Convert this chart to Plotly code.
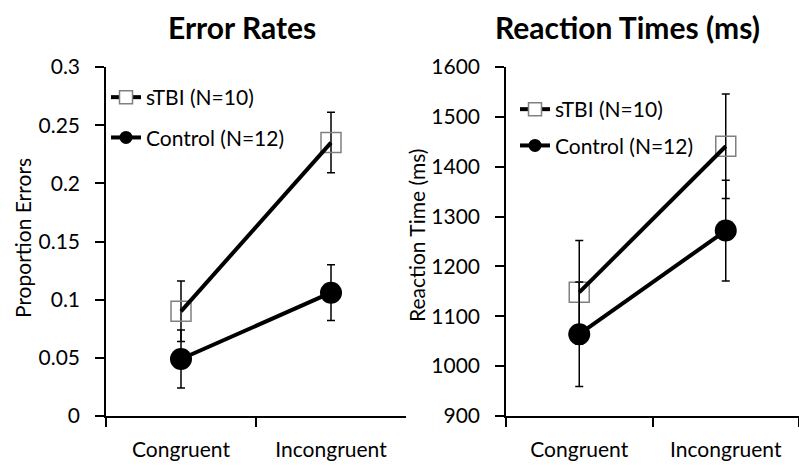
import plotly.graph_objects as go

conditions = ["Congruent", "Incongruent"]

err_stbi = [0.090, 0.235]
err_stbi_se = [0.026, 0.026]
err_ctrl = [0.049, 0.106]
err_ctrl_se = [0.025, 0.024]

rt_stbi = [1148, 1441]
rt_stbi_se = [104, 105]
rt_ctrl = [1064, 1272]
rt_ctrl_se = [105, 101]

names = ["sTBI (N=10)", "Control (N=12)"]
yticks_err = [0, 0.05, 0.1, 0.15, 0.2, 0.25, 0.3]
yticks_rt = [900, 1000, 1100, 1200, 1300, 1400, 1500, 1600]

FONT = "Lato"
FS = 21
fig = go.Figure()

def add_panel(xa, ya, leg, stbi, stbi_se, ctrl, ctrl_se):
    eb = dict(color="black", thickness=1.5, width=4)
    fig.add_trace(go.Scatter(x=conditions, y=stbi, mode="markers", xaxis=xa, yaxis=ya,
                             marker=dict(symbol="square-open", size=20, color="#808080",
                                         line=dict(width=1.5, color="#808080")),
                             error_y=dict(type="data", array=stbi_se, visible=True, **eb),
                             showlegend=False))
    fig.add_trace(go.Scatter(x=conditions, y=stbi, mode="lines", xaxis=xa, yaxis=ya,
                             line=dict(color="black", width=4), showlegend=False))
    fig.add_trace(go.Scatter(x=conditions, y=ctrl, mode="lines+markers", xaxis=xa, yaxis=ya,
                             line=dict(color="black", width=4),
                             marker=dict(symbol="circle", size=22, color="black"),
                             error_y=dict(type="data", array=ctrl_se, visible=True, **eb),
                             showlegend=False))
    fig.add_trace(go.Scatter(x=[None], y=[None], mode="lines+markers", xaxis=xa, yaxis=ya,
                             name=names[0], legend=leg, legendgroup=leg + "a",
                             line=dict(color="black", width=4),
                             marker=dict(symbol="square", size=13, color="white",
                                         line=dict(width=1.5, color="#808080"))))
    fig.add_trace(go.Scatter(x=[None], y=[None], mode="lines+markers", xaxis=xa, yaxis=ya,
                             name=names[1], legend=leg, legendgroup=leg + "b",
                             line=dict(color="black", width=4),
                             marker=dict(symbol="circle", size=13, color="black")))

add_panel("x", "y", "legend", err_stbi, err_stbi_se, err_ctrl, err_ctrl_se)
add_panel("x2", "y2", "legend2", rt_stbi, rt_stbi_se, rt_ctrl, rt_ctrl_se)

W, H = 799, 470
ydom = [(H - 416) / H, (H - 67) / H]
axis_common = dict(showline=True, linecolor="black", linewidth=1.5, showgrid=False,
                   zeroline=False, ticks="outside", ticklen=9, tickcolor="black", tickwidth=1.5,
                   automargin=False,
                   tickfont=dict(family=FONT, size=FS, color="black"))

legend_common = dict(xanchor="left", yanchor="top", bgcolor="rgba(0,0,0,0)",
                     font=dict(family=FONT, size=FS), itemwidth=30)

fig.update_layout(
    width=W, height=H, margin=dict(l=0, r=0, t=0, b=0, autoexpand=False),
    plot_bgcolor="white", paper_bgcolor="white",
    font=dict(family=FONT, size=FS, color="black"),
    xaxis=dict(domain=[106 / W, 406 / W], type="category", range=[-0.5, 1.5],
               tickson="boundaries", ticklabelstandoff=14, anchor="y", **axis_common),
    yaxis=dict(domain=ydom, range=[0, 0.3], tickvals=yticks_err,
               ticktext=[f"{v:g}" for v in yticks_err], ticklabelstandoff=11, anchor="x",
               **axis_common),
    xaxis2=dict(domain=[506 / W, 1.0], type="category", range=[-0.5, 1.5],
                tickson="boundaries", ticklabelstandoff=14, anchor="y2", **axis_common),
    yaxis2=dict(domain=ydom, range=[900, 1600], tickvals=yticks_rt, ticklabelstandoff=11,
                anchor="x2", **axis_common),
    legend=dict(x=106 / W, y=1 - 77 / H, tracegroupgap=10, **legend_common),
    legend2=dict(x=515 / W, y=1 - 89 / H, tracegroupgap=6, **legend_common),
    annotations=[
        dict(text="<b>Error Rates</b>", x=242 / W, y=1 - 27 / H, xref="paper", yref="paper",
             xanchor="center", yanchor="middle", showarrow=False,
             font=dict(family=FONT, size=30)),
        dict(text="<b>Reaction Times (ms)</b>", x=627 / W, y=1 - 27 / H, xref="paper",
             yref="paper", xanchor="center", yanchor="middle", showarrow=False,
             font=dict(family=FONT, size=30)),
        dict(text="Proportion Errors", x=23 / W, y=1 - 238 / H, xref="paper", yref="paper",
             xanchor="center", yanchor="middle", showarrow=False, textangle=-90,
             font=dict(family=FONT, size=FS)),
        dict(text="Reaction Time (ms)", x=417 / W, y=1 - 236 / H, xref="paper", yref="paper",
             xanchor="center", yanchor="middle", showarrow=False, textangle=-90,
             font=dict(family=FONT, size=FS)),
    ],
)

fig.write_html("out.html")
